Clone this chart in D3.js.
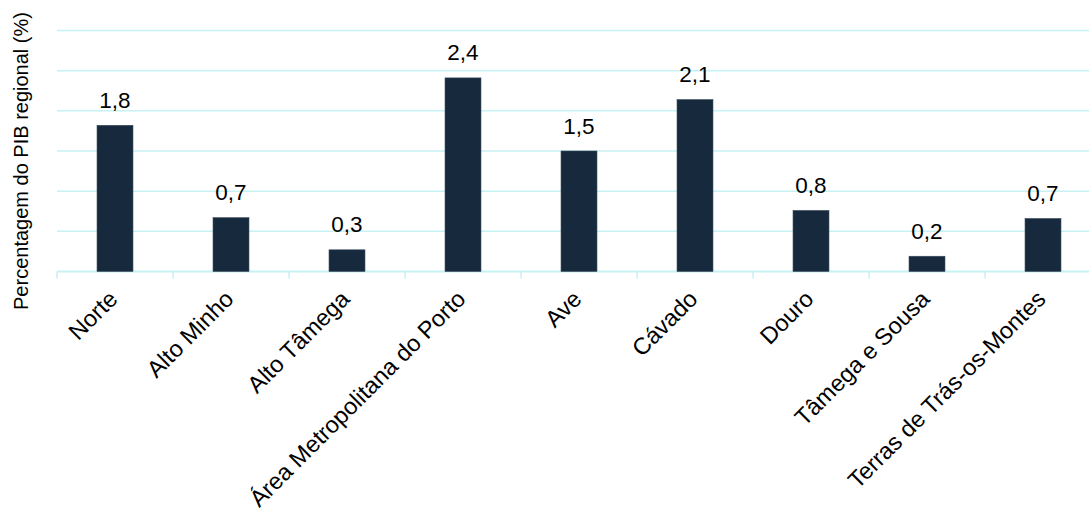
<!DOCTYPE html>
<html><head><meta charset="utf-8">
<script src="https://cdn.jsdelivr.net/npm/d3@7"></script>
<style>body{margin:0;background:#fff}svg{display:block;font-family:"Liberation Sans",Arial,sans-serif}</style>
</head><body><svg id="c" width="1089" height="512"></svg>
<script>
const categories = ["Norte","Alto Minho","Alto Tâmega","Área Metropolitana do Porto","Ave","Cávado","Douro","Tâmega e Sousa","Terras de Trás-os-Montes"];
const values = [1.82,0.67,0.27,2.41,1.50,2.14,0.76,0.19,0.66];
const yTicks = [0,0.5,1,1.5,2,2.5,3];
const yTitle = "Percentagem do PIB regional (%)";

(function(){
const svg = d3.select("#c");
const pL = 57, pR = 1101, pT = 30.5, pB = 271.5;
const x = d3.scaleBand().domain(categories).range([pL,pR]).paddingInner(0.69).paddingOuter(0.345);
const y = d3.scaleLinear().domain([0,3]).range([pB,pT]);
const grid = "#c8f1f3";

svg.append("g").selectAll("line").data(yTicks.slice(1)).join("line")
  .attr("x1",pL).attr("x2",pR).attr("y1",d=>y(d)).attr("y2",d=>y(d))
  .attr("stroke",grid).attr("stroke-width",1.5);

const step = x.step();
svg.append("line").attr("x1",pL).attr("x2",pR).attr("y1",y(0)).attr("y2",y(0)).attr("stroke",grid).attr("stroke-width",2);
svg.append("g").selectAll("line").data(d3.range(categories.length+1)).join("line")
  .attr("x1",i=>pL+i*step).attr("x2",i=>pL+i*step).attr("y1",y(0)).attr("y2",y(0)+7)
  .attr("stroke",grid).attr("stroke-width",1.5);

svg.append("g").selectAll("rect").data(categories).join("rect")
  .attr("x",d=>x(d)).attr("width",x.bandwidth())
  .attr("y",(d,i)=>y(values[i])).attr("height",(d,i)=>y(0)-y(values[i]))
  .attr("fill","#17293d").attr("stroke","#3b4b5c").attr("stroke-width",0.6);

const fmt = v => d3.format(".1f")(v).replace(".",",");
svg.append("g").selectAll("text").data(categories).join("text")
  .attr("x",d=>x(d)+x.bandwidth()/2).attr("y",(d,i)=>y(values[i])-17.5)
  .attr("text-anchor","middle").attr("font-size",22.5).attr("fill","#000")
  .text((d,i)=>fmt(values[i]));

svg.append("g").selectAll("text").data(categories).join("text")
  .attr("text-anchor","end").attr("font-size",23.5).attr("fill","#000")
  .attr("transform",d=>`translate(${x(d)+x.bandwidth()/2+4},${y(0)+29}) rotate(-45)`)
  .text(d=>d);

svg.append("text").attr("transform",`translate(28,161) rotate(-90)`)
  .attr("text-anchor","middle").attr("font-size",20).attr("fill","#000").text(yTitle);
})();
</script></body></html>
